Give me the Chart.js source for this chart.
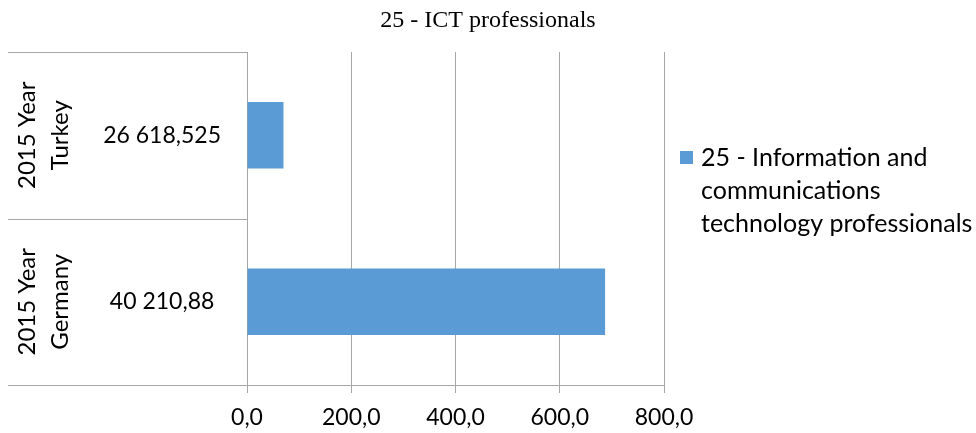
<!DOCTYPE html>
<html>
<head>
<meta charset="utf-8">
<script src="https://cdn.jsdelivr.net/npm/chart.js@4"></script>
<style>
  html, body { margin: 0; padding: 0; background: #fff; }
  #wrap { width: 976px; height: 433px; }
</style>
</head>
<body>
<div id="wrap"><canvas id="ictChart" width="976" height="433"></canvas></div>
<script>
// Chart data
const chartTitle = '25 - ICT professionals';
const outerLabels = [['2015 Year', 'Turkey'], ['2015 Year', 'Germany']];
const innerLabels = ['26 618,525', '40 210,88'];
const ictValues = [70, 687];
const seriesLines = ['25 - Information and', 'communications', 'technology professionals'];
const xMin = 0;
const xMax = 800;
const xStep = 200;

const gridColor = '#A6A6A6';
const barColor = '#5B9BD5';
const labelFont = 'Lato';

// Draws title, the outer (rotated) category labels, label separators and the legend
const decorPlugin = {
    id: 'decor',
    afterDraw(chart) {
        const ctx = chart.ctx;
        const area = chart.chartArea;
        const yScale = chart.scales.y;
        const half = (area.bottom - area.top) / innerLabels.length / 2;

        ctx.save();

        // title
        ctx.fillStyle = '#000';
        ctx.font = '24px "Liberation Serif"';
        ctx.textAlign = 'center';
        ctx.textBaseline = 'middle';
        ctx.fillText(chartTitle, chart.width / 2, 21);

        // separators between the category groups
        ctx.strokeStyle = gridColor;
        ctx.lineWidth = 1;
        const bounds = [];
        innerLabels.forEach((_, i) => {
            const c = yScale.getPixelForValue(i);
            bounds.push(c - half);
            if (i === innerLabels.length - 1) bounds.push(c + half);
        });
        bounds.forEach(b => {
            const yy = Math.round(b) + 0.5;
            ctx.beginPath();
            ctx.moveTo(8, yy);
            ctx.lineTo(area.left, yy);
            ctx.stroke();
        });

        // outer labels, rotated
        ctx.fillStyle = '#000';
        ctx.font = '24px ' + labelFont;
        outerLabels.forEach((lines, i) => {
            const c = yScale.getPixelForValue(i);
            lines.forEach((txt, j) => {
                ctx.save();
                ctx.translate(27 + j * 33, c);
                ctx.rotate(-Math.PI / 2);
                ctx.textAlign = 'center';
                ctx.textBaseline = 'middle';
                ctx.fillText(txt, 0, 0);
                ctx.restore();
            });
        });

        // legend
        ctx.fillStyle = barColor;
        ctx.fillRect(680, 151, 13, 13);
        ctx.fillStyle = '#000';
        ctx.font = '25px ' + labelFont;
        ctx.textAlign = 'left';
        ctx.textBaseline = 'middle';
        seriesLines.forEach((txt, j) => {
            ctx.fillText(txt, 701, 158 + j * 32.8);
        });

        ctx.restore();
    }
};

new Chart(document.getElementById('ictChart'), {
    type: 'bar',
    data: {
        labels: innerLabels,
        datasets: [{
            label: seriesLines.join(' '),
            data: ictValues,
            backgroundColor: barColor,
            categoryPercentage: 1,
            barPercentage: 0.4
        }]
    },
    options: {
        indexAxis: 'y',
        responsive: false,
        animation: false,
        devicePixelRatio: 1,
        layout: {
            padding: { top: 52, right: 312, bottom: 0, left: 0 }
        },
        plugins: {
            legend: { display: false },
            title: { display: false },
            tooltip: { enabled: false }
        },
        scales: {
            x: {
                min: xMin,
                max: xMax,
                afterFit: scale => { scale.height = 48; },
                ticks: {
                    stepSize: xStep,
                    padding: 11,
                    color: '#000',
                    font: { family: labelFont, size: 23 },
                    callback: v => v.toFixed(1).replace('.', ',')
                },
                grid: {
                    color: gridColor,
                    tickLength: 8,
                    tickColor: gridColor
                },
                border: { color: gridColor }
            },
            y: {
                afterFit: scale => { scale.width = 247; },
                ticks: {
                    crossAlign: 'center',
                    padding: 26,
                    color: '#000',
                    font: { family: labelFont, size: 23 }
                },
                grid: { drawOnChartArea: false, drawTicks: false },
                border: { display: true, color: gridColor }
            }
        }
    },
    plugins: [decorPlugin]
});
</script>
</body>
</html>
